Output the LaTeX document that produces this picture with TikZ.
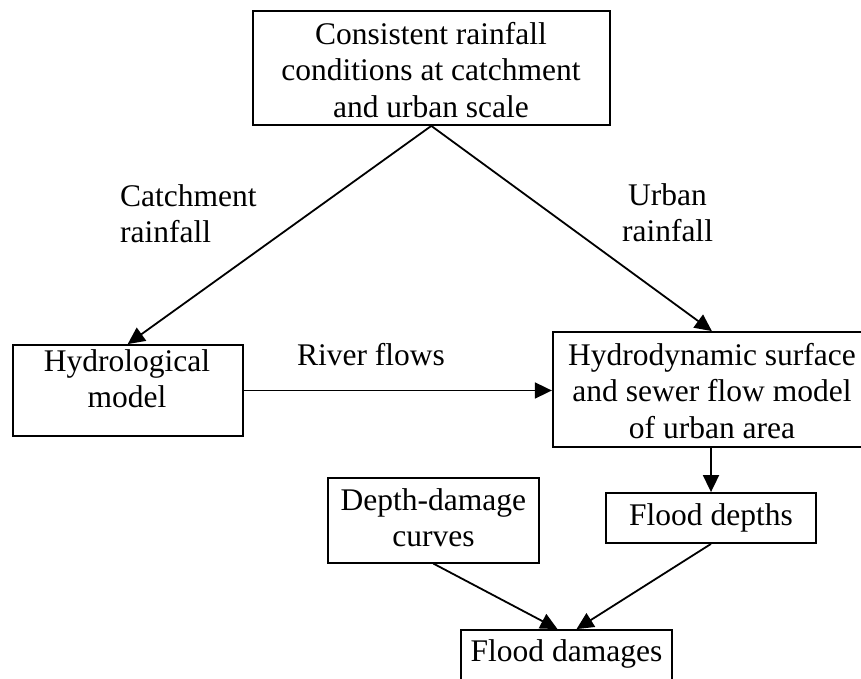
\documentclass[tikz,border=0pt]{standalone}
\usepackage{fontspec}
\setmainfont{Liberation Serif}
\usetikzlibrary{arrows.meta}
\begin{document}
\begin{tikzpicture}[x=1pt,y=1pt,
  box/.style={draw,line width=1.8pt,inner sep=0pt},
  lbl/.style={inner sep=0pt,align=center,font=\fontsize{31.5}{36.5}\selectfont},
  arr/.style={line width=1.8pt,-{Triangle[length=17pt,width=16pt]}}]
\useasboundingbox (0,0) rectangle (861,679);
\clip (0,0) rectangle (861,679);
% boxes
\node[box,minimum width=357.3pt,minimum height=114pt] (top) at (431.3,611) {};
\node[box,minimum width=230pt,minimum height=91pt] (hyd) at (127.7,288.5) {};
\node[box,minimum width=318.3pt,minimum height=115pt] (hdyn) at (711.9,289.5) {};
\node[box,minimum width=211.3pt,minimum height=85pt] (dd) at (433.4,158.8) {};
\node[box,minimum width=210pt,minimum height=50pt] (dep) at (711,161) {};
\node[box,minimum width=211.6pt,minimum height=60pt] (fd) at (566.5,19) {};
% box texts
\node[lbl,anchor=north] (topt) at (431,657) {Consistent rainfall\\conditions at catchment\\and urban scale};
\node[lbl,anchor=north] (hydt) at (127,330) {Hydrological\\model};
\node[lbl,anchor=north] (hdynt) at (712,336) {Hydrodynamic surface\\and sewer flow model\\of urban area};
\node[lbl,anchor=north] (ddt) at (433.4,191) {Depth-damage\\curves};
\node[lbl,anchor=north] (dept) at (711,175.5) {Flood depths};
\node[lbl,anchor=north] (fdt) at (566.5,39.5) {Flood damages};
% edge labels
\node[lbl,align=left,anchor=north west] (lc) at (120,495) {Catchment\\rainfall};
\node[lbl,anchor=north] (lu) at (667.5,496) {Urban\\rainfall};
\node[lbl,anchor=base] (lr) at (371,313) {River flows};
% connectors
\draw[arr] (top.south) -- (hyd.north);
\draw[arr] (top.south) -- (hdyn.north);
\draw[arr] (hyd.east) -- (hyd.east -| hdyn.west);
\draw[arr] (hdyn.south -| dep.north) -- (dep.north);
\coordinate (fdl) at ([xshift=-9pt]fd.north);
\coordinate (fdr) at ([xshift=10pt]fd.north);
\draw[arr] (dd.south) -- (fdl);
\draw[arr] (dep.south) -- (fdr);
\end{tikzpicture}
\end{document}
